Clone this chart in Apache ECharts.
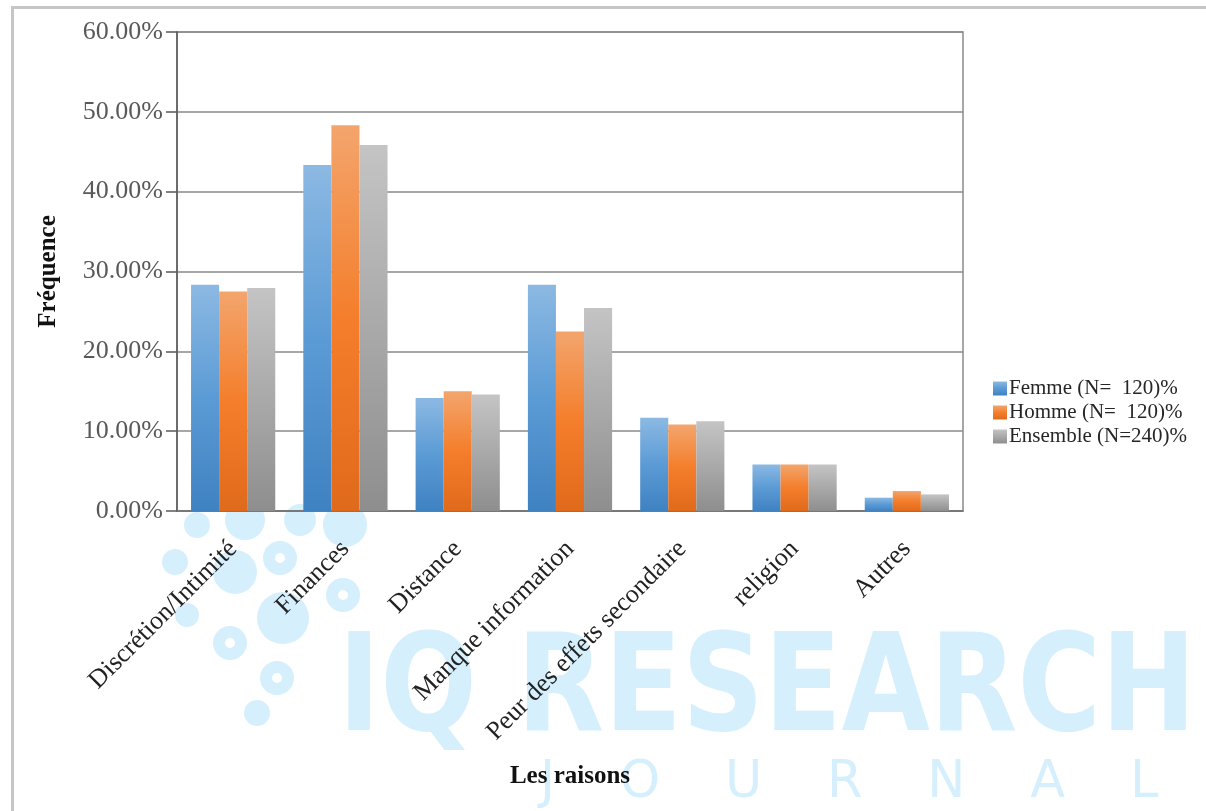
<!DOCTYPE html>
<html>
<head>
<meta charset="utf-8">
<title>Les raisons</title>
<script src="https://cdn.jsdelivr.net/npm/echarts@6/dist/echarts.min.js"></script>
<style>
  html, body { margin: 0; padding: 0; background: #fff; }
  #chart { width: 1206px; height: 811px; }
</style>
</head>
<body>
<div id="chart"></div>
<script>
// categories and series (percent values)
var raisons = ['Discrétion/Intimité', 'Finances', 'Distance', 'Manque information',
               'Peur des effets secondaire', 'religion', 'Autres'];
var femme    = [28.33, 43.33, 14.17, 28.33, 11.67, 5.83, 1.67];
var homme    = [27.50, 48.33, 15.00, 22.50, 10.83, 5.83, 2.50];
var ensemble = [27.92, 45.83, 14.58, 25.42, 11.25, 5.83, 2.08];
var seriesNames = ['Femme (N=  120)%', 'Homme (N=  120)%', 'Ensemble (N=240)%'];

var serif = "'Liberation Serif', 'Times New Roman', serif";
var bleuPale = '#d5f0fc';

// degrade vertical facon Excel
function degrade(haut, milieu, bas) {
    return new echarts.graphic.LinearGradient(0, 0, 0, 1, [
        { offset: 0, color: haut },
        { offset: 0.5, color: milieu },
        { offset: 1, color: bas }
    ]);
}

// bulles du logo en filigrane : [x, y, rayon, anneau]
var bulles = [
    [197, 525, 13, false], [175, 562, 13, false], [187, 615, 12, false],
    [230, 643, 17, true], [277, 678, 17, true], [257, 713, 13, false],
    [280, 558, 17, true], [343, 595, 17, true], [283, 618, 26, false],
    [235, 572, 22, false], [245, 520, 20, false], [345, 525, 22, false],
    [300, 520, 16, false]
];
var graphiques = bulles.map(function (b) {
    return {
        type: 'circle', z: -6, silent: true,
        shape: { cx: b[0], cy: b[1], r: b[3] ? b[2] - 6 : b[2] },
        style: b[3] ? { fill: null, stroke: bleuPale, lineWidth: 12 } : { fill: bleuPale }
    };
});

graphiques.push(
    // cadre gris autour de l'image
    {
        type: 'rect', left: 10, top: 5, z: -10,
        shape: { width: 1400, height: 1000 },
        style: { fill: null, stroke: '#c6c6c6', lineWidth: 3 }
    },
    // filigrane
    {
        type: 'text', left: 338, top: 627, z: -5, silent: true,
        scaleX: 0.93,
        style: {
            text: 'IQ RESEARCH',
            font: "bold 136px 'DejaVu Sans Condensed', 'DejaVu Sans', sans-serif",
            fill: bleuPale
        }
    },
    {
        type: 'text', left: 540, top: 758, z: -5, silent: true,
        style: {
            text: 'J    O    U    R    N    A    L',
            font: "51px 'DejaVu Sans', sans-serif",
            fill: bleuPale
        }
    }
);

var myChart = echarts.init(document.getElementById('chart'));

myChart.setOption({
    backgroundColor: '#fff',
    animation: false,
    graphic: graphiques,
    grid: {
        left: 177, right: 243, top: 32, bottom: 300,
        show: true, borderColor: '#8a8a8a', borderWidth: 1.5
    },
    legend: {
        orient: 'vertical',
        left: 988, top: 373,
        icon: 'rect',
        itemWidth: 14, itemHeight: 14, itemGap: 3,
        textStyle: { fontFamily: serif, fontSize: 21, color: '#262626', padding: [0, 0, 0, -3] },
        data: seriesNames
    },
    xAxis: {
        type: 'category',
        data: raisons,
        name: 'Les raisons',
        nameLocation: 'middle',
        nameGap: 253,
        nameTextStyle: { fontFamily: serif, fontSize: 25, fontWeight: 'bold', color: '#111' },
        axisLine: { lineStyle: { color: '#707070', width: 1.5 } },
        axisTick: { show: false },
        axisLabel: {
            interval: 0, rotate: 45, margin: 34,
            fontFamily: serif, fontSize: 26, color: '#222'
        }
    },
    yAxis: {
        type: 'value',
        min: 0, max: 60, interval: 10,
        name: 'Fréquence',
        nameLocation: 'middle',
        nameGap: 116,
        nameTextStyle: { fontFamily: serif, fontSize: 25, fontWeight: 'bold', color: '#111' },
        axisLine: { show: true, lineStyle: { color: '#595959', width: 1.5 } },
        axisTick: { show: true, length: 11, lineStyle: { color: '#595959', width: 1.5 } },
        splitLine: { lineStyle: { color: '#8a8a8a', width: 1.5 } },
        axisLabel: {
            margin: 14,
            fontFamily: serif, fontSize: 26, color: '#595959',
            formatter: function (v) { return v.toFixed(2) + '%'; }
        }
    },
    series: [
        {
            name: seriesNames[0], type: 'bar', data: femme,
            barGap: '0%', barCategoryGap: '25%',
            itemStyle: { color: degrade('#8cb9e3', '#5b9bd5', '#3f82c2') }
        },
        {
            name: seriesNames[1], type: 'bar', data: homme,
            itemStyle: { color: degrade('#f3a56d', '#f47e2b', '#e06a1b') }
        },
        {
            name: seriesNames[2], type: 'bar', data: ensemble,
            itemStyle: { color: degrade('#c4c4c4', '#a9a9a9', '#8e8e8e') }
        }
    ]
});
</script>
</body>
</html>
